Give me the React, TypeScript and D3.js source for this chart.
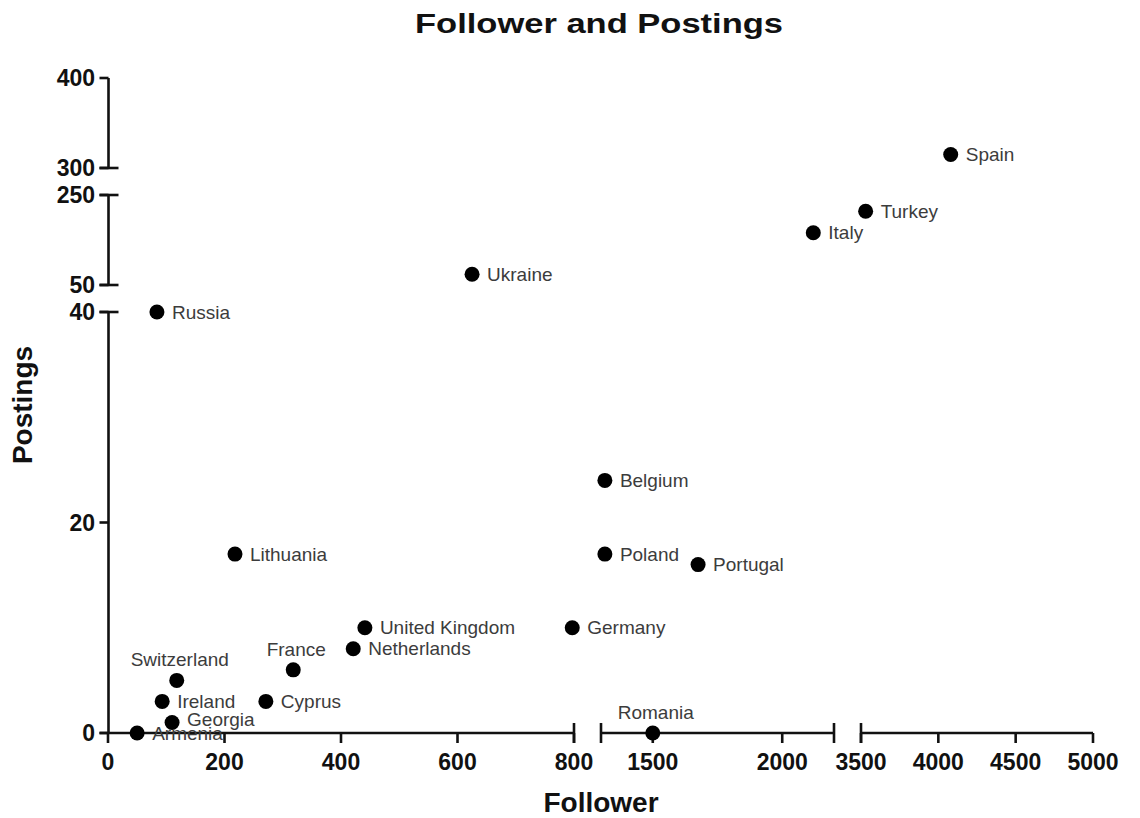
import React from "react";
import * as d3 from "d3";

// ---- data ----
const countries = ["Spain", "Turkey", "Italy", "Ukraine", "Russia", "Belgium", "Lithuania", "Poland", "Portugal", "United Kingdom", "Germany", "Netherlands", "France", "Switzerland", "Ireland", "Cyprus", "Georgia", "Armenia", "Romania"];
const followers = [4080, 3530, 2120, 625, 84, 1315, 218, 1315, 1675, 441, 797, 421, 318, 118, 93, 271, 110, 50, 1500];
const postings = [315, 214, 166, 74, 40, 24, 17, 17, 16, 10, 10, 8, 6, 5, 3, 3, 1, 0, 0];
const labelPlacement = ["right", "right", "right", "right", "right", "right", "right", "right", "right", "right", "right", "right", "top", "top", "right", "right", "rightUp", "right", "top"];

// broken axis segments (domains) and their tick labels
const xDomains: [number, number][] = [[0, 800], [1300, 2200], [3500, 5000]];
const xTickValues = [[0, 200, 400, 600, 800], [1500, 2000], [3500, 4000, 4500, 5000]];
const yDomains: [number, number][] = [[0, 40], [50, 250], [300, 400]];
const yTickValues = [[0, 20, 40], [50, 250], [300, 400]];

const title = "Follower and Postings";
const xTitle = "Follower";
const yTitle = "Postings";

// ---- layout ----
const W = 1140, H = 818;
const xRanges: [number, number][] = [[108, 574], [601, 834], [861, 1093]];
const yRanges: [number, number][] = [[733, 312], [285, 195], [168, 78]];
const axisX = 108.5;
const axisY = 733;
const FONT = "'Liberation Sans', Arial, Helvetica, sans-serif";

const xScales = xDomains.map((d, i) => d3.scaleLinear().domain(d).range(xRanges[i]));
const yScales = yDomains.map((d, i) => d3.scaleLinear().domain(d).range(yRanges[i]));

function segOf(domains: [number, number][], v: number) {
  for (let i = 0; i < domains.length; i++) {
    if (v >= domains[i][0] && v <= domains[i][1]) return i;
  }
  return domains.length - 1;
}
const xPos = (v: number) => xScales[segOf(xDomains, v)](v);
const yPos = (v: number) => yScales[segOf(yDomains, v)](v);

export default function App() {
  const sw = 2.6;
  const tick = 9;
  const cap = 10;
  return (
    <svg width={W} height={H} style={{ position: "absolute", left: 0, top: 0, background: "#fff" }} fontFamily={FONT}>
      <text x={599} y={33} textAnchor="middle" fontSize={28} fontWeight="bold" textLength={368} lengthAdjust="spacingAndGlyphs" fill="#111">{title}</text>

      {/* Y axis segments */}
      {yScales.map((s, i) => {
        const [r0, r1] = s.range();
        const n = yScales.length;
        return (
          <g key={"ys" + i} stroke="#111" strokeWidth={sw}>
            <line x1={axisX} x2={axisX} y1={r0 + (i === 0 ? 0 : 0)} y2={r1} />
            {i > 0 && <line x1={axisX - cap + 1} x2={axisX + cap} y1={r0} y2={r0} />}
            {i < n - 1 && <line x1={axisX - cap + 1} x2={axisX + cap} y1={r1} y2={r1} />}
            {yTickValues[i].map((t) => (
              <line key={t} x1={axisX - tick} x2={axisX} y1={s(t)} y2={s(t)} />
            ))}
          </g>
        );
      })}
      {yScales.map((s, i) =>
        yTickValues[i].map((t) => (
          <text key={"yl" + i + t} x={95} y={s(t)} dy="0.36em" textAnchor="end" fontSize={23} fontWeight="bold" fill="#111">{t}</text>
        ))
      )}

      {/* X axis segments */}
      {xScales.map((s, i) => {
        const [r0, r1] = s.range();
        const n = xScales.length;
        return (
          <g key={"xs" + i} stroke="#111" strokeWidth={sw}>
            <line x1={i === 0 ? axisX - tick : r0} x2={r1} y1={axisY} y2={axisY} />
            {i > 0 && <line x1={r0} x2={r0} y1={axisY - cap} y2={axisY + cap} />}
            {i < n - 1 && <line x1={r1} x2={r1} y1={axisY - cap} y2={axisY + cap} />}
            {xTickValues[i].map((t) => (
              <line key={t} x1={s(t)} x2={s(t)} y1={axisY} y2={axisY + tick + 1} />
            ))}
          </g>
        );
      })}
      {xScales.map((s, i) =>
        xTickValues[i].map((t) => (
          <text key={"xl" + i + t} x={s(t)} y={770} textAnchor="middle" fontSize={23} fontWeight="bold" fill="#111">{t}</text>
        ))
      )}

      <text x={601} y={812} textAnchor="middle" fontSize={28} fontWeight="bold" fill="#111">{xTitle}</text>
      <text transform="translate(32,405) rotate(-90)" textAnchor="middle" fontSize={28} fontWeight="bold" fill="#111">{yTitle}</text>

      {/* points */}
      {countries.map((c, i) => {
        const cx = xPos(followers[i]);
        const cy = yPos(postings[i]);
        return <circle key={"p" + c} cx={cx} cy={cy} r={7.5} fill="#000" />;
      })}
      {countries.map((c, i) => {
        const cx = xPos(followers[i]);
        const cy = yPos(postings[i]);
        const p = labelPlacement[i];
        if (p === "top") {
          return <text key={"l" + c} x={cx + 3} y={cy - 14} textAnchor="middle" fontSize={19} fill="#3c3c3c">{c}</text>;
        }
        return <text key={"l" + c} x={cx + 15} y={cy + (p === "rightUp" ? -3 : 0)} dy="0.35em" fontSize={19} fill="#3c3c3c">{c}</text>;
      })}
    </svg>
  );
}
